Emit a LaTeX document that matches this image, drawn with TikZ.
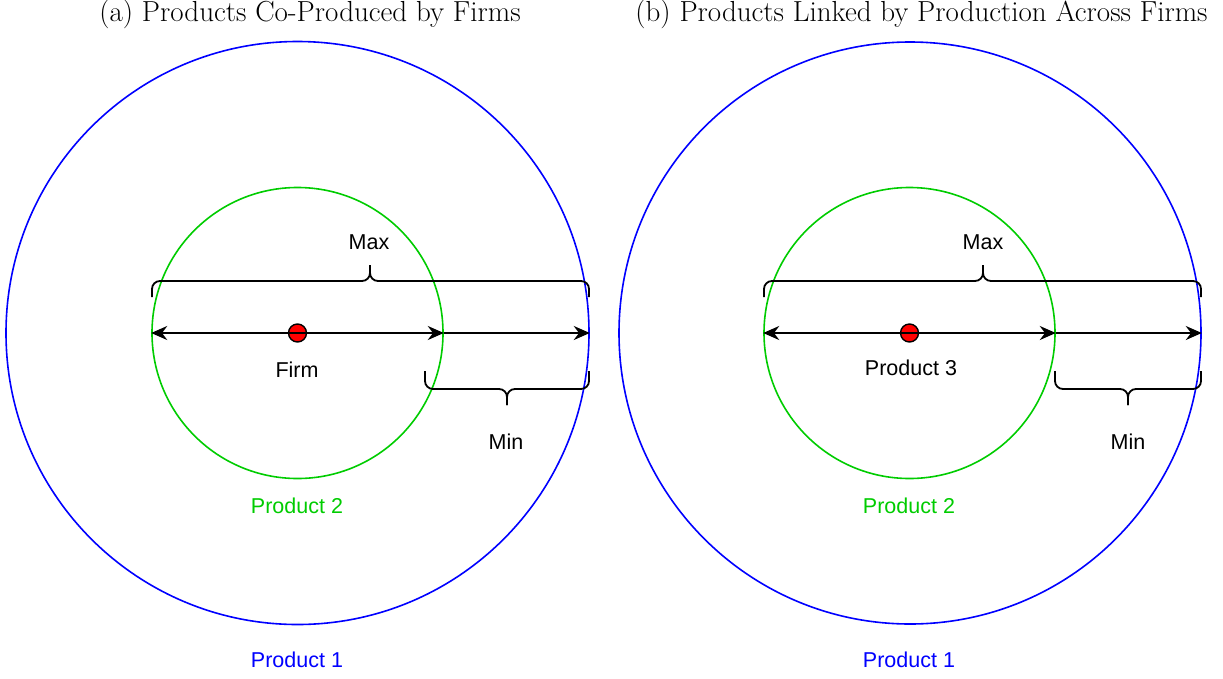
\documentclass[tikz,border=0pt]{standalone}
\usepackage{fontspec}
\newfontfamily\lab{Liberation Sans}
\usetikzlibrary{arrows.meta}
\definecolor{gr}{RGB}{0,204,0}
\definecolor{bl}{RGB}{0,0,255}
\tikzset{
  ring/.style={circle, draw=#1, line width=1.6pt, inner sep=0pt},
  lbl/.style={font=\lab\fontsize{21.5}{25}\selectfont, inner sep=0pt},
  ttl/.style={font=\fontsize{29}{34}\selectfont, inner sep=0pt},
  arr/.style={line width=2pt, -{Stealth[length=16pt,width=14pt]}},
  darr/.style={line width=2pt, {Stealth[length=16pt,width=14pt]}-{Stealth[length=16pt,width=14pt]}},
  brace/.style={line width=1.8pt, rounded corners=8pt},
  dotn/.style={circle, draw=black, fill=red, line width=1.4pt, minimum size=18pt, inner sep=0pt}
}
\begin{document}
\begin{tikzpicture}[x=1pt,y=-1pt]
\useasboundingbox (0,0) rectangle (1223,678);
% titles
\node[ttl] (ta) at (310,14) {(a) Products Co-Produced by Firms};
\node[ttl] (tb) at (921.5,14) {(b) Products Linked by Production Across Firms};
% panel a
\node[ring=bl, minimum size=583pt] (ba) at (297.5,333) {};
\node[ring=gr, minimum size=291pt] (ga) at (297.5,333) {};
\draw[darr] (ga.west) -- (ga.east);
\draw[arr] (ga.east) -- (ba.east);
\node[dotn] (fa) at (ga.center) {};
\draw[line width=1.2pt] (fa.west) -- (fa.east);
\node[lbl] (firm) at (297,370) {Firm};
\draw[brace] (152,297) -- (152,281) -- (370,281) -- (370,265);
\draw[brace] (370,265) -- (370,281) -- (589,281) -- (589,297);
\node[lbl] (maxa) at (369,242) {Max};
\draw[brace] (425,371) -- (425,389) -- (507,389) -- (507,405);
\draw[brace] (507,405) -- (507,389) -- (589,389) -- (589,371);
\node[lbl] (mina) at (506,442) {Min};
\node[lbl, text=gr] (p2a) at (297,506) {Product 2};
\node[lbl, text=bl] (p1a) at (297,660) {Product 1};
% panel b
\node[ring=bl, minimum size=582pt] (bb) at (910,333) {};
\node[ring=gr, minimum size=291pt] (gb) at (909.5,333) {};
\draw[darr] (gb.west) -- (gb.east);
\draw[arr] (gb.east) -- (bb.east);
\node[dotn] (fb) at (gb.center) {};
\draw[line width=1.2pt] (fb.west) -- (fb.east);
\node[lbl] (p3) at (911,368) {Product 3};
\draw[brace] (764,297) -- (764,281) -- (983,281) -- (983,265);
\draw[brace] (983,265) -- (983,281) -- (1201,281) -- (1201,297);
\node[lbl] (maxb) at (983,242) {Max};
\draw[brace] (1055,371) -- (1055,389) -- (1128,389) -- (1128,405);
\draw[brace] (1128,405) -- (1128,389) -- (1201,389) -- (1201,371);
\node[lbl] (minb) at (1128,442) {Min};
\node[lbl, text=gr] (p2b) at (909,506) {Product 2};
\node[lbl, text=bl] (p1b) at (909,660) {Product 1};
\end{tikzpicture}
\end{document}
